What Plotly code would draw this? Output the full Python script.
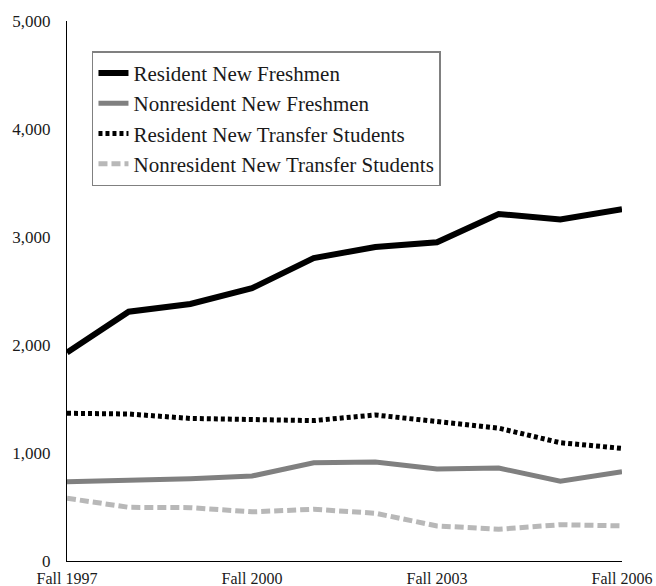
import plotly.graph_objects as go

years = [1997, 1998, 1999, 2000, 2001, 2002, 2003, 2004, 2005, 2006]
resident_freshmen = [1930, 2308, 2380, 2526, 2804, 2908, 2952, 3213, 3162, 3257]
nonresident_freshmen = [734, 747, 762, 787, 910, 917, 852, 861, 738, 827]
resident_transfer = [1368, 1361, 1320, 1312, 1300, 1352, 1290, 1230, 1095, 1043]
nonresident_transfer = [581, 497, 494, 455, 479, 442, 325, 294, 336, 325]

tick_years = [1997, 2000, 2003, 2006]
tick_labels = ["Fall 1997", "Fall 2000", "Fall 2003", "Fall 2006"]

FONT = "Liberation Serif"

series = [
    ("Resident New Freshmen", resident_freshmen, "#000000", "solid", 6),
    ("Nonresident New Freshmen", nonresident_freshmen, "#808080", "solid", 5),
    ("Resident New Transfer Students", resident_transfer, "#000000", "4px,3px", 5),
    ("Nonresident New Transfer Students", nonresident_transfer, "#b8b8b8", "9px,4px", 5),
]

fig = go.Figure()
for i, (name, vals, color, dash, w) in enumerate(series):
    fig.add_trace(go.Scatter(
        x=years, y=vals, mode="lines", name=name,
        legendgroup=f"g{i}",
        line=dict(color=color, width=w, dash=dash),
    ))

fig.update_layout(
    width=656, height=586,
    margin=dict(l=67, r=34, t=21, b=25, autoexpand=False),
    paper_bgcolor="white", plot_bgcolor="white",
    font=dict(family=FONT, color="#1a1a1a", size=17),
    showlegend=True,
    legend=dict(
        x=0.045, y=0.944, xanchor="left", yanchor="top",
        bordercolor="#808080", borderwidth=1.5, bgcolor="white",
        font=dict(family=FONT, size=21, color="#1a1a1a"),
        tracegroupgap=0, traceorder="grouped",
        entrywidth=312, entrywidthmode="pixels",
    ),
    xaxis=dict(
        range=[1997, 2006], showgrid=False, zeroline=False,
        showline=True, linecolor="#000000", linewidth=1.2,
        tickvals=tick_years, ticktext=tick_labels, ticks="",
        ticklabelstandoff=3,
        tickfont=dict(family=FONT, size=16, color="#1a1a1a"),
        fixedrange=True,
    ),
    yaxis=dict(
        range=[0, 5000], showgrid=False, zeroline=False,
        showline=True, linecolor="#000000", linewidth=1.2,
        tickvals=[0, 1000, 2000, 3000, 4000, 5000], tickformat=",",
        ticks="", ticklabelstandoff=12,
        tickfont=dict(family=FONT, size=17, color="#1a1a1a"),
        fixedrange=True,
    ),
)

fig.write_html("out.html", config={"displayModeBar": False},
               post_script="document.body.style.margin='0';")
